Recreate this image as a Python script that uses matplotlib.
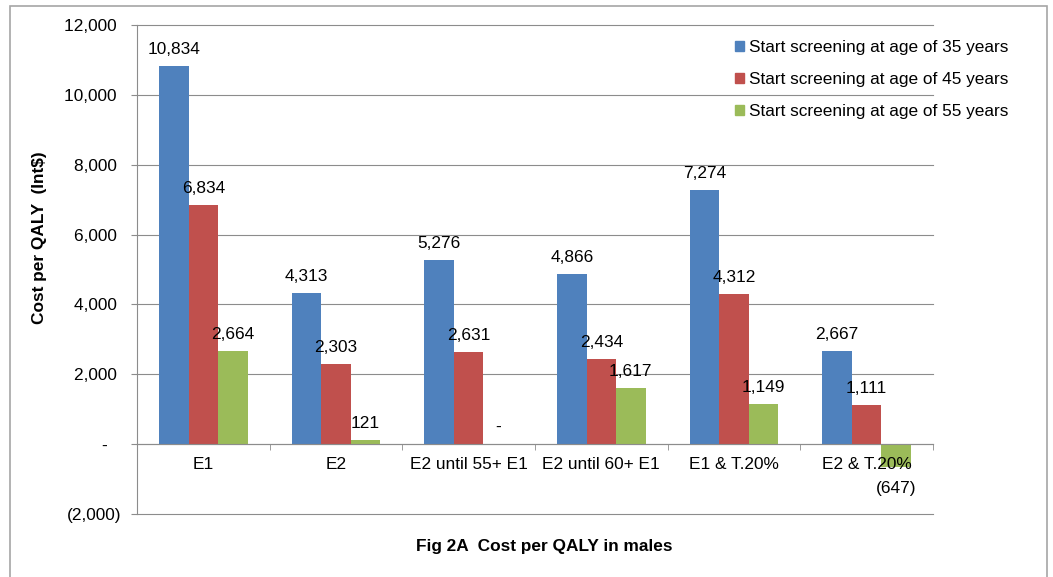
import numpy as np
import matplotlib
matplotlib.use('Agg')
import matplotlib.pyplot as plt
from matplotlib.patches import Patch, Rectangle
from matplotlib.ticker import FuncFormatter, MultipleLocator

plt.rcParams['font.family'] = ['Liberation Sans', 'DejaVu Sans']
plt.rcParams['font.size'] = 12.4

categories = ['E1', 'E2', 'E2 until 55+ E1', 'E2 until 60+ E1', 'E1 & T.20%', 'E2 & T.20%']
series_names = ['Start screening at age of 35 years',
                'Start screening at age of 45 years',
                'Start screening at age of 55 years']
age35 = [10834, 4313, 5276, 4866, 7274, 2667]
age45 = [6834, 2303, 2631, 2434, 4312, 1111]
age55 = [2664, 121, 0, 1617, 1149, -647]
colors = ['#4F81BD', '#C0504D', '#9BBB59']
grid_col = '#8c8c8c'


def acct(v, pos=None):
    # excel accounting style labels
    if v == 0:
        return '-   '
    if v < 0:
        return '({:,.0f})'.format(-v)
    return '{:,.0f} '.format(v)


def val_label(v):
    if v == 0:
        return '-'
    if v < 0:
        return '({:,.0f})'.format(-v)
    return '{:,.0f}'.format(v)


fig = plt.figure(figsize=(10.53, 5.77), dpi=100)
ax = fig.add_axes([137/1053, 1-514/577, 796/1053, 489/577])

x = np.arange(len(categories))
bw = 1/4.5
for i, (vals, col) in enumerate(zip([age35, age45, age55], colors)):
    pos = x + (i-1)*bw
    ax.bar(pos, vals, width=bw, color=col, zorder=1)
    for px, v in zip(pos, vals):
        if v < 0:
            ax.annotate(val_label(v), (px, v), xytext=(0, -10.5), textcoords='offset points',
                        ha='center', va='top')
        else:
            ax.annotate(val_label(v), (px, v), xytext=(0, 6.5), textcoords='offset points',
                        ha='center', va='bottom')

ax.set_xlim(-0.5, len(categories)-0.5)
ax.set_ylim(-2000, 12000)
ax.yaxis.set_major_locator(MultipleLocator(2000))
ax.yaxis.set_major_formatter(FuncFormatter(acct))

# gridlines drawn by hand so they sit under the bars while tick labels stay on top
for yv in np.arange(-2000, 12001, 2000):
    ax.axhline(yv, color=grid_col, linewidth=0.8, zorder=0.5, clip_on=False)

ax.set_xticks(x)
ax.set_xticklabels(categories)
ax.set_xticks(np.arange(len(categories)+1)-0.5, minor=True)
ax.tick_params(axis='x', which='major', length=0, pad=9.5)
ax.tick_params(axis='x', which='minor', length=4, color=grid_col, direction='out')
ax.tick_params(axis='y', length=4, color=grid_col, pad=7)

for s in ['top', 'right']:
    ax.spines[s].set_visible(False)
ax.spines['bottom'].set_position(('data', 0))
ax.spines['bottom'].set_color(grid_col)
ax.spines['left'].set_color(grid_col)

handles = [Patch(color=c) for c in colors]
fig.legend(handles, series_names, loc='upper left', bbox_to_anchor=(735/1053, 1-40/577),
           frameon=False, handlelength=0.5, handleheight=0.5, handletextpad=0.3,
           labelspacing=0.98, borderpad=0, borderaxespad=0)

fig.text(40/1053, 1-238/577, 'Cost per QALY  (Int$)', rotation=90, fontweight='bold',
         ha='center', va='center')
fig.text(544/1053, 1-547/577, 'Fig 2A  Cost per QALY in males', fontweight='bold',
         ha='center', va='center')

fig.patches.append(Rectangle((10/1053, -0.1), 1037/1053, 1.1-6/577, transform=fig.transFigure,
                             fill=False, edgecolor='#a6a6a6', linewidth=1.2))

fig.savefig('out.png', dpi=100)
